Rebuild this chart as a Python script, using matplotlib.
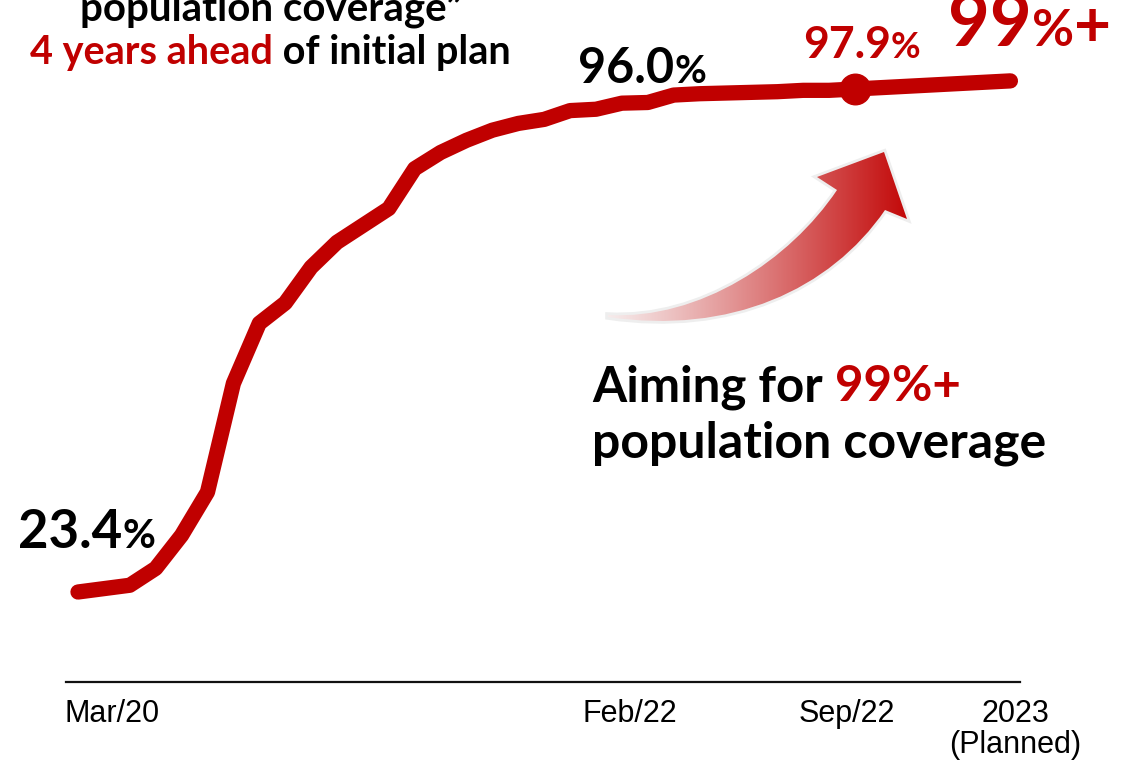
import matplotlib
matplotlib.use("Agg")
import matplotlib.pyplot as plt
from matplotlib.path import Path
from matplotlib.patches import PathPatch
import numpy as np

# ---------------- data ----------------
month_idx = [0, 2, 3, 4, 5, 6, 7, 8, 9, 10, 11, 12, 13, 14, 15, 16, 17, 18,
             19, 20, 21, 22, 23, 24, 25, 26, 27, 28, 29, 30, 31, 32, 33, 34, 35, 36]
coverage = [23.4, 24.4, 26.9, 31.8, 38.2, 54.3, 63.2, 66.2, 71.5, 75.2, 77.7, 80.2,
            86.1, 88.5, 90.3, 91.8, 92.8, 93.4, 94.7, 94.9, 95.8, 95.9, 97.0, 97.2,
            97.3, 97.4, 97.5, 97.7, 97.7, 97.9, 98.1, 98.3, 98.5, 98.7, 98.9, 99.1]
highlight_month = 30          # Sep/22
tick_labels = ["Mar/20", "Feb/22", "Sep/22", "2023\n(Planned)"]
tick_pos = [1.3, 21.3, 29.7, 36.2]

RED = "#C00000"
BOLD = ["Lato", "DejaVu Sans"]
TICKF = ["Liberation Sans", "DejaVu Sans"]

fig = plt.figure(figsize=(11.4, 7.64), dpi=100)
ax = fig.add_axes([66 / 1140, 82 / 764, 954 / 1140, 682 / 764])
ax.set_xlim(-0.463, 36.37)
ax.set_ylim(10.07, 111.08)
for s in ["top", "right", "left"]:
    ax.spines[s].set_visible(False)
ax.spines["bottom"].set_linewidth(1.6)
ax.spines["bottom"].set_color("#111111")
ax.set_yticks([])
ax.set_xticks(tick_pos, tick_labels)
ax.tick_params(axis="x", length=0, pad=12, labelsize=22)
for lab in ax.get_xticklabels():
    lab.set_family(TICKF)
    lab.set_linespacing(1.05)
ax.patch.set_alpha(0)

ax.plot(month_idx, coverage, color=RED, lw=11, solid_capstyle="round",
        solid_joinstyle="round", clip_on=False, zorder=3)
hi = month_idx.index(highlight_month)
ax.plot([month_idx[hi]], [coverage[hi]], "o", ms=22, color=RED, clip_on=False, zorder=4)

# ---------------- overlay (pixel coordinates) ----------------
ov = fig.add_axes([0, 0, 1, 1], zorder=5)
ov.patch.set_alpha(0)
ov.axis("off")


def setlim():
    ov.set_xlim(0, 1140)
    ov.set_ylim(764, 0)


setlim()
renderer = fig.canvas.get_renderer()


def rich(x, y, pieces, ha="left"):
    objs = []
    total = 0
    for s, size, color in pieces:
        t = ov.text(0, y, s, fontsize=size, color=color, fontweight="bold",
                    family=BOLD, va="baseline", ha="left")
        w = t.get_window_extent(renderer).width
        objs.append((t, w))
        total += w
    cur = x if ha == "left" else (x - total / 2 if ha == "center" else x - total)
    for t, w in objs:
        t.set_x(cur)
        cur += w


rich(18, 548, [("23.4", 38, "black"), ("%", 29, "black")])
rich(578, 83, [("96.0", 35, "black"), ("%", 28, "black")])
rich(803, 58, [("97.9", 32, RED), ("%", 26, RED)])
rich(948, 46, [("99", 52, RED), ("%", 37, RED), ("+", 46, RED)])
rich(271, 20, [("population coverage\u201d", 29, "black")], ha="center")
rich(30, 64, [("4 years ahead", 28.5, RED), (" of initial plan", 28.5, "black")])
rich(592, 401, [("Aiming for ", 35.5, "black"), ("99%+", 35.5, RED)])
rich(592, 458, [("population coverage", 36, "black")])

# gradient curved arrow
verts = [(608, 315), (700, 320), (790, 260), (837, 190),
         (817, 177), (884, 152), (907, 219), (885, 210),
         (830, 290), (730, 335), (608, 317), (608, 315)]
codes = [Path.MOVETO, Path.CURVE4, Path.CURVE4, Path.CURVE4,
         Path.LINETO, Path.LINETO, Path.LINETO, Path.LINETO,
         Path.CURVE4, Path.CURVE4, Path.CURVE4, Path.CLOSEPOLY]
path = Path(verts, codes)
glow = PathPatch(path, facecolor="none", edgecolor="#EEEEEE", lw=4, zorder=1)
ov.add_patch(glow)
clip = PathPatch(path, facecolor="none", edgecolor="none")
ov.add_patch(clip)
g = np.linspace(0, 1, 256) ** 1.1
c0 = np.array([0.97, 0.94, 0.94])
c1 = np.array([0.76, 0.02, 0.02])
img = (c0[None, :] * (1 - g[:, None]) + c1[None, :] * g[:, None])[None, :, :]
img = np.repeat(img, 2, axis=0)
im = ov.imshow(img, extent=(600, 912, 335, 148), aspect="auto", zorder=2,
               interpolation="bilinear")
im.set_clip_path(clip)
setlim()

fig.savefig("out.png", dpi=100)
